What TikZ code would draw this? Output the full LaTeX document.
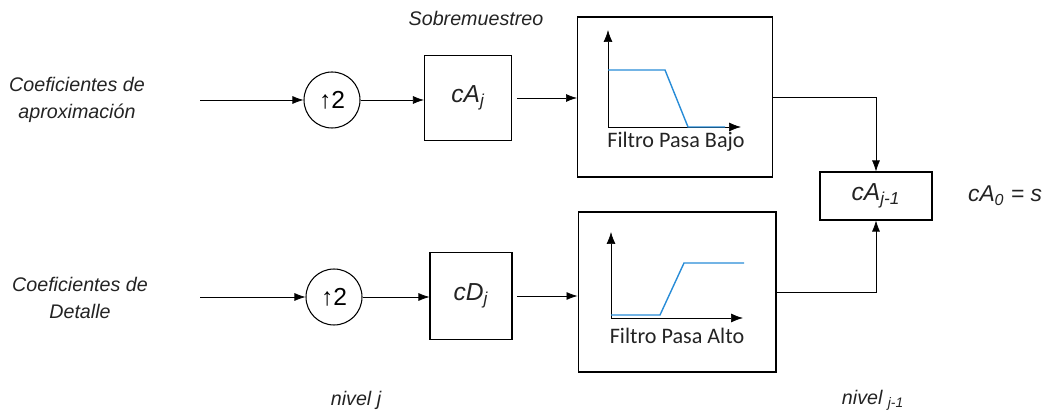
\documentclass[tikz,border=0pt]{standalone}
\usepackage{fontspec}
\setmainfont{Liberation Sans}
\newfontfamily\filtfont{Carlito}
\usetikzlibrary{arrows.meta,positioning}
\definecolor{txtgray}{RGB}{35,35,35}
\definecolor{respblue}{RGB}{40,140,215}

\begin{document}
\begin{tikzpicture}[x=0.02cm,y=-0.02cm,>={Latex[length=2.2mm,width=1.6mm]},
  blk/.style={rectangle,draw,line width=0.6pt,font=\itshape\fontsize{14}{16}\selectfont,text=txtgray},
  up/.style={circle,draw,line width=0.6pt,minimum size=1.12cm,inner sep=0pt,font=\fontsize{14}{16}\selectfont},
  filt/.style={rectangle,draw,line width=0.6pt,minimum width=3.9cm,minimum height=3.2cm},
  lbl/.style={font=\itshape\fontsize{11.2}{15}\selectfont,text=txtgray,align=center},
  ftxt/.style={font=\filtfont\fontsize{12.6}{14}\selectfont,text=txtgray}]
  \useasboundingbox (0,0) rectangle (1057,411);

  % rama de aproximacion
  \node[lbl] (ca) at (77,100) {Coeficientes de\\aproximación};
  \node[up] (upa) at (332,100) {↑2};
  \node[blk,minimum width=1.74cm,minimum height=1.7cm] (caj) at (468,98) {cA\textsubscript{j}};
  \node[filt] (lp) at (675,97) {};
  \node[lbl] at (476,18) {Sobremuestreo};
  \draw[->] (200,100) -- (upa);
  \draw[->] (upa) -- (upa-|caj.west);
  \draw[->] (517,98) -- (lp.west|-0,98);

  % respuesta pasa bajo
  \draw[-{Latex[length=2.4mm,width=1.8mm]}] (608,127) -- (608,30);
  \draw[-{Latex[length=2.4mm,width=1.8mm]}] (608,127) -- (741,127);
  \draw[respblue,line width=0.8pt] (608,70) -- (665,70) -- (688,127) -- (725,127);
  \node[ftxt] (lptxt) at (676,142) {Filtro Pasa Bajo};

  % rama de detalle
  \node[lbl] (cd) at (80,298) {Coeficientes de\\Detalle};
  \node[up] (upd) at (334,297) {↑2};
  \node[blk,minimum width=1.64cm,minimum height=1.74cm] (cdj) at (471,296) {cD\textsubscript{j}};
  \node[filt,minimum width=3.96cm] (hp) at (677,292) {};
  \draw[->] (200,297) -- (upd);
  \draw[->] (upd) -- (upd-|cdj.west);
  \draw[->] (517,296) -- (hp.west|-0,296);

  % respuesta pasa alto
  \draw[-{Latex[length=2.4mm,width=1.8mm]}] (611,318) -- (611,232);
  \draw[-{Latex[length=2.4mm,width=1.8mm]}] (611,318) -- (743,318);
  \draw[respblue,line width=0.8pt] (611,315) -- (660,315) -- (684,263) -- (744,263);
  \node[ftxt] (hptxt) at (677,336) {Filtro Pasa Alto};

  % reconstruccion
  \node[blk,minimum width=2.24cm,minimum height=0.96cm] (caj1) at (876,196) {cA\textsubscript{j-1}};
  \draw[->] (lp.east|-0,97) -| (caj1.north);
  \draw[->] (hp.east|-0,292) -| (caj1.south);
  \node[lbl,font=\itshape\fontsize{13}{15}\selectfont] (ca0) at (1005,196) {cA\textsubscript{0} = s};

  \node[lbl] (nj) at (356,400) {nivel \textit{j}};
  \node[lbl] (nj1) at (873,400) {nivel \textsubscript{j-1}};
\end{tikzpicture}
\end{document}
